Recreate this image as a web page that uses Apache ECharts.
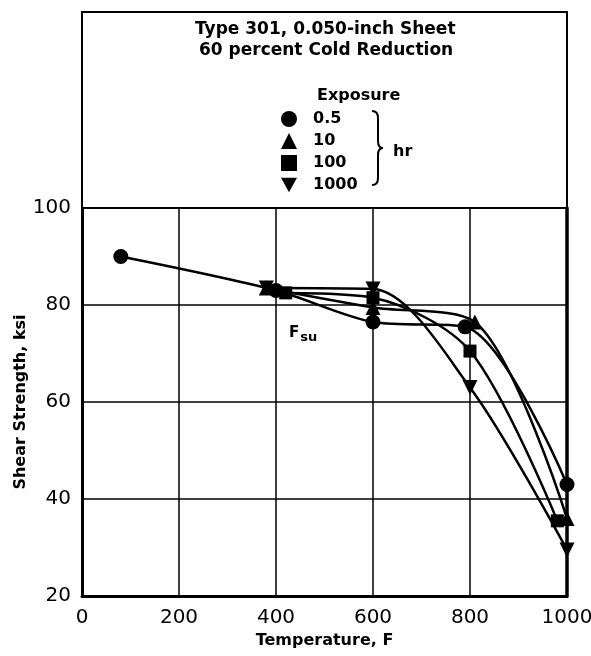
<!DOCTYPE html>
<html>
<head>
<meta charset="utf-8">
<script src="https://cdn.jsdelivr.net/npm/echarts@6/dist/echarts.min.js"></script>
<style>
html,body{margin:0;padding:0;background:#fff;}
#chart{width:591px;height:656px;}
</style>
</head>
<body>
<div id="chart"></div>
<script>
// ---- data ----
const seriesNames = ['0.5', '10', '100', '1000'];
const temps05 = [80, 400, 600, 790, 1000];
const vals05 = [90, 83, 76.5, 75.5, 43];
const temps10 = [380, 600, 810, 1000];
const vals10 = [83.5, 79.5, 76.5, 36];
const temps100 = [420, 600, 800, 980];
const vals100 = [82.5, 81.5, 70.5, 35.5];
const temps1000 = [380, 600, 800, 1000];
const vals1000 = [83.5, 83.3, 63, 29.5];
const xTicks = [0, 200, 400, 600, 800, 1000];
const yTicks = [20, 40, 60, 80, 100];

const invTri = 'path://M0,0 L10,0 L5,9 Z';
const symbols = ['circle', 'triangle', 'rect', invTri];
const symSizes = [15, 15, 13, 15];
const xs = [temps05, temps10, temps100, temps1000];
const ys = [vals05, vals10, vals100, vals1000];

function pairs(a, b) { return a.map((v, i) => [v, b[i]]); }

const chart = echarts.init(document.getElementById('chart'), null, {renderer: 'canvas'});
const bold = 'DejaVu Sans';
const series = seriesNames.map((n, i) => ({
  name: n,
  type: 'line',
  xAxisIndex: 0, yAxisIndex: 0,
  data: pairs(xs[i], ys[i]),
  smooth: 0.3,
  symbol: symbols[i],
  symbolSize: symSizes[i],
  showAllSymbol: true,
  clip: false,
  lineStyle: {color: '#000', width: 2.5},
  itemStyle: {color: '#000', borderWidth: 0},
  emphasis: {disabled: true},
  z: 5
}));

const braceStyle = {stroke: '#000', lineWidth: 2, fill: null};
const option = {
  animation: false,
  backgroundColor: '#fff',
  grid: [
    {left: 82, right: 24, top: 208, bottom: 60, show: false, outerBoundsMode: 'none', containLabel: false},
    {left: 82, right: 24, top: 12, height: 196, show: true, borderColor: '#000', borderWidth: 2, backgroundColor: 'transparent', outerBoundsMode: 'none'}
  ],
  xAxis: [
    {
      type: 'value', gridIndex: 0, min: 0, max: 1000, interval: 200,
      name: 'Temperature, F', nameLocation: 'middle', nameGap: 37,
      nameTextStyle: {fontFamily: bold, fontWeight: 'bold', fontSize: 16, color: '#000'},
      axisLine: {show: true, lineStyle: {color: '#000', width: 3}},
      axisTick: {show: false},
      axisLabel: {color: '#000', fontSize: 20, fontFamily: 'DejaVu Sans', margin: 12, formatter: v => String(v)},
      splitLine: {show: true, lineStyle: {color: '#000', width: 1.5}}
    },
    {type: 'value', gridIndex: 1, min: 0, max: 1, show: false}
  ],
  yAxis: [
    {
      type: 'value', gridIndex: 0, min: 20, max: 100, interval: 20,
      name: 'Shear Strength, ksi', nameLocation: 'middle', nameGap: 53, nameRotate: 90,
      nameMoveOverlap: false,
      nameTextStyle: {fontFamily: bold, fontWeight: 'bold', fontSize: 16, color: '#000'},
      axisLine: {show: true, lineStyle: {color: '#000', width: 3}},
      axisTick: {show: false},
      axisLabel: {color: '#000', fontSize: 20, fontFamily: 'DejaVu Sans', margin: 11, formatter: v => String(v)},
      splitLine: {show: true, lineStyle: {color: '#000', width: 1.5}}
    },
    {
      type: 'value', gridIndex: 0, min: 20, max: 100, interval: 20, position: 'right',
      axisLine: {show: true, onZero: false, lineStyle: {color: '#000', width: 3.5}},
      axisTick: {show: false}, axisLabel: {show: false}, splitLine: {show: false}
    },
    {type: 'value', gridIndex: 1, min: 0, max: 1, show: false}
  ],
  legend: {
    orient: 'vertical', left: 276, top: 106,
    itemWidth: 16, itemHeight: 16, itemGap: 6,
    selectedMode: false,
    data: seriesNames.map((n, i) => ({name: n, icon: symbols[i]})),
    itemStyle: {color: '#000'},
    lineStyle: {width: 0},
    textStyle: {fontFamily: bold, fontWeight: 'bold', fontSize: 16, color: '#000', padding: [0, 0, 0, 11]}
  },
  graphic: [
    {type: 'text', left: 195, top: 21, style: {text: 'Type 301, 0.050-inch Sheet', font: 'bold 17px "DejaVu Sans"', fill: '#000'}},
    {type: 'text', left: 199, top: 42, style: {text: '60 percent Cold Reduction', font: 'bold 17px "DejaVu Sans"', fill: '#000'}},
    {type: 'text', top: 88, left: 317, style: {text: 'Exposure', font: 'bold 16px "DejaVu Sans"', fill: '#000'}},
    {type: 'text', top: 144, left: 393, style: {text: 'hr', font: 'bold 16px "DejaVu Sans"', fill: '#000'}},
    {type: 'bezierCurve', shape: {x1: 372, y1: 111, x2: 378, y2: 118, cpx1: 378, cpy1: 111}, style: braceStyle},
    {type: 'line', shape: {x1: 378, y1: 118, x2: 378, y2: 141}, style: braceStyle},
    {type: 'bezierCurve', shape: {x1: 378, y1: 141, x2: 383, y2: 148, cpx1: 378, cpy1: 148}, style: braceStyle},
    {type: 'bezierCurve', shape: {x1: 383, y1: 148, x2: 378, y2: 155, cpx1: 378, cpy1: 148}, style: braceStyle},
    {type: 'line', shape: {x1: 378, y1: 155, x2: 378, y2: 178}, style: braceStyle},
    {type: 'bezierCurve', shape: {x1: 378, y1: 178, x2: 372, y2: 185, cpx1: 378, cpy1: 185}, style: braceStyle},
    {type: 'text', top: 326, left: 289, style: {
      text: '{a|F}{b|su}', rich: {a: {font: 'bold 15px "DejaVu Sans"', fill: '#000'}, b: {font: 'bold 13px "DejaVu Sans"', fill: '#000', padding: [9, 0, 0, 1]}}}}
  ],
  series: series
};
chart.setOption(option);
</script>
</body>
</html>
